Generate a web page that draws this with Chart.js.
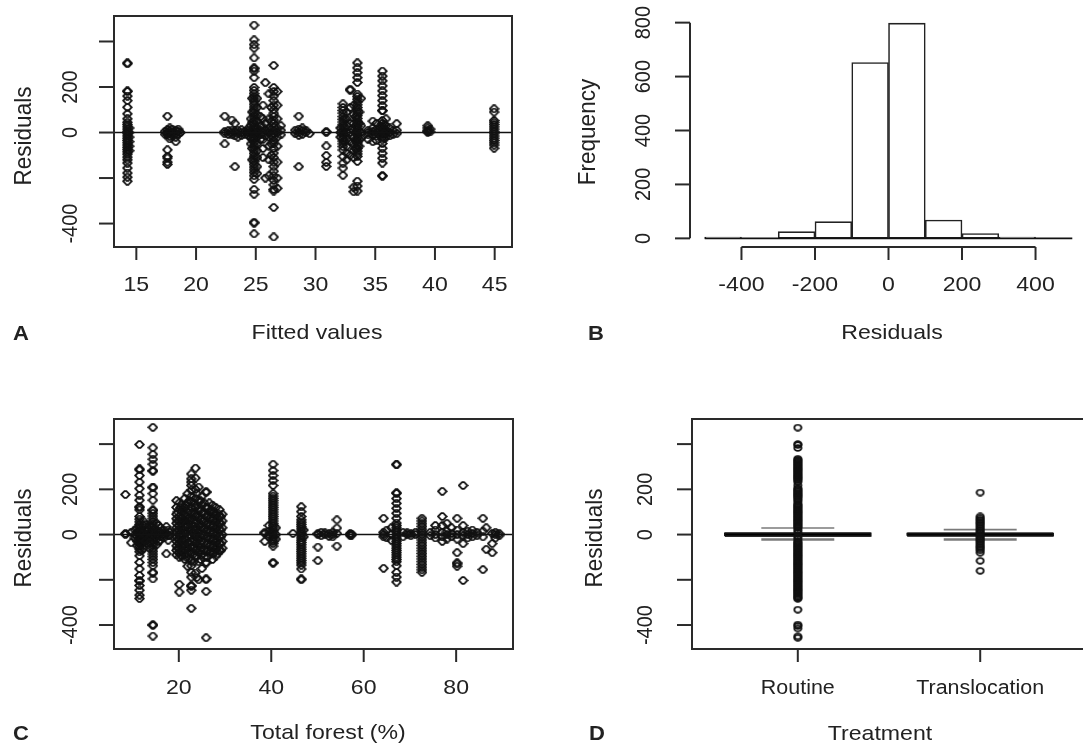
<!DOCTYPE html>
<html>
<head>
<meta charset="utf-8">
<title>Residual diagnostics</title>
<script src="https://cdn.jsdelivr.net/npm/chart.js@4.4.1/dist/chart.umd.min.js"></script>
<style>
  html, body { margin: 0; padding: 0; background: #fff; overflow: hidden; }
  #wrap { position: relative; width: 1083px; height: 746px; overflow: hidden; }
  canvas { position: absolute; }
</style>
</head>
<body>
<div id="wrap">
  <canvas id="panelA" width="541" height="373" style="left:0;top:0"></canvas>
  <canvas id="panelB" width="560" height="373" style="left:541px;top:0"></canvas>
  <canvas id="panelC" width="541" height="373" style="left:0;top:373px"></canvas>
  <canvas id="panelD" width="560" height="373" style="left:541px;top:373px"></canvas>
</div>
<script>
// --- A: residuals against fitted values (one list of residuals per fitted value)
const fittedA = [14.25, 14.4, 17.4, 17.6, 17.8, 18.0, 18.3, 18.5, 18.7, 22.4, 22.7, 23.0, 23.25, 23.5, 23.8, 24.1, 24.4, 24.6,
  24.86, 25.1, 25.4, 25.8, 26.1, 26.5, 26.8, 27.1, 28.3, 28.6, 28.9, 29.2, 29.5, 30.9, 32.1, 32.3, 32.6, 32.9, 33.2, 33.5,
  33.8, 34.4, 34.8, 35.1, 35.6, 35.9, 36.2, 36.5, 36.8, 39.4, 39.6, 44.95,
  24.7, 25.6, 26.3, 32.45, 33.35, 33.65, 35.35, 35.75];
const residA = [
  [306, 302, 183, 180, 160, 140, 111, 82, 60, 45, 35, 25, 15, 5, -5, -15, -25, -35, -45, -55, -65, -75, -85, -95, -108, -120, -134, -156, -178, -196, -214],
  [20, 0, -20, -40, -60, -80],
  [5, -8],
  [72, 12, 0, -10, -76, -105, -112, -130, -140],
  [20, 8, -5, -18, -28],
  [15, 0, -12],
  [10, -5, -20, -40],
  [15, 5, -8],
  [0],
  [72, 5, -5, -50],
  [8, -8],
  [55, 10, 0, -10],
  [40, 5, -15, -150],
  [10, -5, -20],
  [12, 0, -12],
  [5, -8],
  [20, 10, 0, -12],
  [60, 30, 0, -25, -50],
  [472, 407, 386, 371, 328, 284, 280, 270, 241, 198, 185, 172, 160, 148, 136, 124, 112, 100, 88, 76, 64, 52, 40, 28, 16, 4, -8, -20, -32, -44, -56, -68, -80, -92, -104, -116, -128, -140, -152, -164, -176, -190, -206, -250, -271, -394, -398, -445],
  [150, 110, 80, 50, 20, 0, -20, -50, -80, -110, -150, -180],
  [70, 30, 10, -10, -30],
  [219, 40, 10, -15, -200],
  [170, 60, 20, 0, -20, -60, -120, -190],
  [295, 198, 180, 160, 140, 120, 100, 85, 70, 55, 40, 25, 10, -5, -20, -35, -50, -70, -90, -110, -130, -150, -170, -190, -210, -230, -250, -257, -329, -459],
  [180, 120, 60, 20, 0, -20, -60, -130, -200, -245],
  [30, 10, -10],
  [10, -5],
  [72, 15, 0, -12, -150],
  [20, 8, -8],
  [10, 0],
  [-5],
  [5, 0, -59, -101, -131, -149],
  [20, 0, -20],
  [126, 110, 97, 85, 70, 58, 46, 34, 22, 10, -2, -14, -26, -38, -50, -62, -77, -105, -134, -156, -188],
  [90, 60, 30, 0, -30, -60, -90, -120],
  [190, 186, 110, 40, 0, -40, -100],
  [120, 80, 40, 10, -20, -50, -80, -110, -240, -260],
  [306, 284, 263, 241, 220, 169, 158, 146, 134, 122, 110, 98, 86, 74, 62, 50, 38, 26, 14, 2, -10, -22, -34, -46, -58, -70, -82, -94, -105, -127, -214, -235, -257],
  [150, 30, 0, -25],
  [10, 0, -10, -30],
  [50, 20, 5, -8, -40],
  [40, 15, 0, -15, -35],
  [270, 248, 227, 205, 183, 162, 140, 118, 97, 95, 53, 40, 28, 16, 4, -8, -20, -32, -48, -69, -91, -113, -134, -189, -192],
  [60, 30, 10, -5, -20],
  [20, 0, -15],
  [10, -8],
  [39, 10, -5],
  [30, 20, 10, 5, 0],
  [15, 3],
  [104, 90, 53, 45, 35, 25, 15, 5, -5, -15, -25, -35, -45, -55, -69],
  [150, 90, 45, 10, -30, -70, -120],
  [120, 60, 25, 0, -30, -70, -110],
  [110, 50, 15, -15, -50, -100],
  [60, 20, -10, -40],
  [70, 30, 0, -35, -70],
  [90, 40, 5, -30, -60],
  [25, 5, -10],
  [35, 15, -5, -25]
];

// --- B: histogram of residuals
const histBreaks = [-500, -400, -300, -200, -100, 0, 100, 200, 300, 400, 500];
const histCounts = [5, 0, 25, 62, 652, 798, 68, 18, 5, 0];

// --- C: residuals against total forest (%)
const forestC = [8.45, 9.7, 10.5, 11.5, 12.3, 13.2, 14.4, 15.2, 16.0, 16.8, 17.3, 18.0, 19.5, 20.1, 20.7, 21.3, 21.9, 22.7,
  23.6, 24.3, 25.0, 25.9, 26.6, 27.3, 28.0, 28.8, 29.4, 38.6, 39.5, 40.4, 41.0, 44.7, 46.5, 47.0, 50.1, 50.8, 51.6, 52.5,
  53.3, 54.2, 57.1, 57.4, 64.3, 65.0, 66.0, 67.1, 68.5, 69.4, 70.2, 71.2, 72.6, 74.4, 75.5, 77.0, 78.0, 79.0, 80.2, 81.5,
  82.5, 83.5, 84.5, 85.8, 86.5, 87.8, 88.5, 89.3,
  19.8, 20.4, 21.0, 21.6, 22.3, 23.2, 23.9, 24.7, 25.5, 26.2, 27.0, 27.7, 28.4, 29.1,
  11.0, 12.0, 12.8, 13.7, 15.6, 17.7];
const residC = [
  [177, 5, 0],
  [10, -36],
  [20, 0, -15],
  [398, 290, 286, 261, 232, 203, 174, 152, 123, 119, 109, 80, 68, 56, 44, 32, 20, 8, -4, -16, -28, -40, -52, -64, -76, -94, -123, -152, -181, -203, -206, -225, -246, -268, -283],
  [60, 40, 10, -10, -30, -60],
  [30, 15, 0, -20, -40],
  [474, 384, 355, 333, 311, 283, 280, 210, 207, 181, 152, 109, 106, 94, 82, 70, 58, 46, 34, 22, 10, -2, -14, -26, -38, -50, -62, -74, -86, -98, -110, -124, -138, -167, -170, -196, -398, -402, -449],
  [50, 20, 0, -20, -45],
  [30, 10, -10, -25],
  [20, 0, -15],
  [35, 5, -85],
  [10, -5],
  [150, 120, 90, 70, 50, 30, 10, -10, -30, -50, -70, -90],
  [140, 110, 80, 60, 40, 20, 0, -20, -40, -60, -80, -100, -220, -254],
  [130, 100, 75, 50, 25, 0, -25, -50, -75, -95],
  [160, 120, 90, 60, 30, 5, -20, -45, -70, -90, -110],
  [180, 140, 100, 70, 40, 15, -10, -35, -60, -85, -140],
  [268, 246, 232, 217, 196, 170, 145, 120, 95, 70, 45, 20, -5, -30, -55, -80, -116, -138, -167, -188, -225, -229, -246, -326],
  [294, 250, 200, 160, 120, 80, 50, 20, -10, -40, -70, -100, -170],
  [210, 150, 110, 75, 40, 10, -20, -50, -80, -120, -200],
  [170, 130, 95, 60, 30, 0, -30, -60, -90, -150],
  [190, 186, 120, 80, 45, 15, -15, -45, -75, -123, -126, -196, -199, -251, -456],
  [140, 100, 70, 40, 10, -20, -50, -80],
  [130, 95, 65, 35, 5, -25, -55, -85, -110],
  [120, 85, 55, 25, -5, -35, -65, -95],
  [110, 80, 50, 20, -10, -40, -70],
  [90, 60, 30, 0, -30, -60],
  [10, 5, -30],
  [40, 15, 0, -10],
  [311, 283, 261, 239, 217, 181, 170, 160, 150, 140, 130, 120, 110, 100, 90, 80, 70, 60, 50, 40, 30, 20, 10, 0, -10, -20, -30, -40, -51, -123, -127],
  [30, 0, -20],
  [5],
  [123, 101, 80, 65, 55, 45, 35, 25, 15, 5, -5, -15, -25, -35, -45, -55, -65, -75, -85, -95, -105, -115, -125, -135, -152, -196, -200],
  [20, -10],
  [5, 0, -55, -115],
  [10, -5],
  [8, 0],
  [5, -8],
  [10, 0, -10],
  [65, 29, 5, -51],
  [5, 0, -5],
  [2, -2],
  [72, 10, 0, -10, -149],
  [20, -15],
  [30, 0, -25],
  [311, 308, 185, 182, 159, 138, 116, 94, 72, 51, 40, 30, 20, 10, 0, -10, -20, -30, -40, -50, -60, -70, -80, -90, -100, -110, -120, -138, -167, -188, -210],
  [10, -10],
  [8, 0],
  [5, -5],
  [10, 0],
  [72, 60, 48, 36, 24, 12, 0, -12, -24, -36, -48, -60, -72, -84, -96, -108, -120, -132, -144, -156, -167],
  [10, -5],
  [40, 20, 0, -15],
  [191, 80, 40, 10, -10, -30],
  [50, 15, 0, -20],
  [30, 5, -10],
  [72, 20, 0, -20, -80, -125, -130, -140],
  [217, 40, 10, -5, -40, -203],
  [15, 0, -15],
  [20, 5, -10],
  [10, -5],
  [72, 15, -10, -155],
  [30, -65],
  [5, -40, -80],
  [10, 0, -15],
  [5, -5],
  [100, 60, 20, -20, -60],
  [120, 70, 30, -10, -50, -90],
  [110, 65, 15, -30, -75],
  [130, 80, 45, 10, -25, -65, -100],
  [150, 105, 60, 30, 0, -40, -75, -105],
  [140, 100, 65, 35, 5, -25, -55, -85, -120],
  [180, 130, 90, 60, 30, 0, -30, -60, -95, -190],
  [150, 110, 70, 45, 20, -10, -40, -70, -110],
  [140, 100, 65, 30, 0, -35, -70, -100],
  [120, 85, 50, 20, -10, -40, -70, -100],
  [110, 75, 45, 15, -15, -45, -75],
  [100, 70, 40, 10, -20, -50, -80],
  [95, 65, 35, 5, -25, -55, -85],
  [80, 50, 20, -10, -40, -70],
  [30, 10, -10, -30, -50],
  [20, 0, -20, -40, -70],
  [45, 20, -5, -30],
  [40, 10, -15, -35, -60],
  [40, 15, -5, -30],
  [20, -5, -25]
];

// --- D: boxplot of residuals by treatment
const treatments = ['Routine', 'Translocation'];
const boxLo = [-22, -22];
const boxQ1 = [-6, -5];
const boxMed = [0, 0];
const boxQ3 = [6, 5];
const boxHi = [29, 22];
const outliersD = [
  [473, 400, 396, 383, 335, 330, 325, 320, 315, 310, 305, 300, 295, 290, 285, 280, 275, 270, 265, 260, 255, 250, 245, 240,
   233, 218, 205, 200, 195, 190, 185, 180, 175, 170, 165, 160, 153, 145, 135, 130, 125, 120, 115, 110, 105, 100, 95, 90, 85,
   80, 75, 70, 65, 60, 55, 50, 45, 40, 35, 30, 20, 10, -10, -20, -30, -35, -40, -45, -50, -55, -60, -65, -70, -75, -80, -85,
   -90, -95, -100, -105, -110, -115, -120, -125, -130, -135, -140, -145, -150, -155, -160, -165, -170, -175, -180, -185,
   -190, -195, -200, -205, -210, -215, -220, -225, -230, -235, -240, -245, -250, -255, -260, -265, -270, -275, -280, -284,
   -332, -398, -404, -415, -450, -456],
  [186, 80, 72, 65, 58, 51, 44, 36, 28, 20, 12, 5, -3, -10, -18, -25, -32, -40, -48, -55, -62, -70, -80, -116, -160]
];

// --- ticks
const fittedTicks = [15, 20, 25, 30, 35, 40, 45];
const residTicks = [-400, -200, 0, 200, 400];
const residTickLabels = ['-400', '', '0', '200', ''];
const histTicks = [-400, -200, 0, 200, 400];
const freqTicks = [0, 200, 400, 600, 800];
const forestTicks = [20, 40, 60, 80];
const treatmentTicks = [1, 2];

const FONT = '"Liberation Sans", Arial, Helvetica, sans-serif';
const INK = '#222';
const STRETCH = 1.1; // the figure was scaled a little wider than tall

function columnsToPoints(xs, ys) {
  const pts = [];
  xs.forEach((x, i) => (ys[i] || []).forEach(y => pts.push({ x: x, y: y })));
  return pts;
}

// small hollow markers like the resampled R circles
function makeMarker(kind) {
  const c = document.createElement('canvas');
  const g = c.getContext('2d');
  if (kind === 'diamond') {
    c.width = 11; c.height = 9;
    g.strokeStyle = '#111'; g.lineWidth = 1.8;
    g.beginPath();
    g.moveTo(1.2, 4.5); g.lineTo(4.5, 1.2); g.lineTo(6.5, 1.2); g.lineTo(9.8, 4.5);
    g.lineTo(6.5, 7.8); g.lineTo(4.5, 7.8); g.closePath();
  } else {
    c.width = 10; c.height = 8;
    g.strokeStyle = '#111'; g.lineWidth = 1.8;
    g.beginPath();
    g.ellipse(5, 4, 3.6, 2.8, 0, 0, Math.PI * 2);
  }
  g.stroke();
  return c;
}
const diamond = makeMarker('diamond');
const ring = makeMarker('ring');

function drawText(ctx, str, x, y, size, rotate, bold) {
  ctx.save();
  ctx.translate(x, y);
  ctx.scale(STRETCH, 1);
  if (rotate) ctx.rotate(-Math.PI / 2);
  ctx.font = (bold ? 'bold ' : '') + size + 'px ' + FONT;
  ctx.fillStyle = INK;
  ctx.textAlign = 'center';
  ctx.textBaseline = 'middle';
  ctx.fillText(str, 0, 0);
  ctx.restore();
}

function seg(ctx, x0, y0, x1, y1) {
  ctx.beginPath(); ctx.moveTo(x0, y0); ctx.lineTo(x1, y1); ctx.stroke();
}

// R style frame, axes, tick labels and titles
const rFrame = {
  id: 'rFrame',
  afterDatasetsDraw(chart, args, o) {
    const ctx = chart.ctx, a = chart.chartArea;
    const sx = chart.scales.x, sy = chart.scales.y;
    ctx.save();
    if (o.hline) {
      const y = sy.getPixelForValue(o.hline.value);
      const x0 = o.hline.from !== undefined ? sx.getPixelForValue(o.hline.from) : a.left;
      const x1 = o.hline.to !== undefined ? sx.getPixelForValue(o.hline.to) : a.right;
      ctx.strokeStyle = '#111'; ctx.lineWidth = 1.6;
      seg(ctx, x0, y, x1, y);
    }
    ctx.strokeStyle = '#2a2a2a'; ctx.lineWidth = 2;
    if (o.box) {
      ctx.strokeRect(a.left, a.top, a.right - a.left, a.bottom - a.top);
    } else {
      const xFirst = sx.getPixelForValue(o.xTicks[0]), xLast = sx.getPixelForValue(o.xTicks[o.xTicks.length - 1]);
      const yFirst = sy.getPixelForValue(o.yTicks[0]), yLast = sy.getPixelForValue(o.yTicks[o.yTicks.length - 1]);
      seg(ctx, xFirst, a.bottom, xLast, a.bottom);
      seg(ctx, a.left, yFirst, a.left, yLast);
    }
    o.xTicks.forEach((v, i) => {
      const x = sx.getPixelForValue(v);
      seg(ctx, x, a.bottom, x, a.bottom + 13);
      drawText(ctx, o.xLabels[i], x, o.xTickY, o.xTickSize || 21, false);
    });
    o.yTicks.forEach((v, i) => {
      const y = sy.getPixelForValue(v);
      seg(ctx, a.left, y, a.left - 15, y);
      if (o.yLabels[i]) drawText(ctx, o.yLabels[i], o.yTickX, y, 20, true);
    });
    drawText(ctx, o.xTitle[0], o.xTitle[1], o.xTitle[2], 21, false);
    drawText(ctx, o.yTitle[0], o.yTitle[1], o.yTitle[2], 22.5, true);
    drawText(ctx, o.letter[0], o.letter[1], o.letter[2], 20, false, true);
    ctx.restore();
  }
};

function baseOptions(pad, xr, yr, frame) {
  return {
    responsive: false,
    animation: false,
    events: [],
    layout: { padding: pad },
    scales: {
      x: { type: 'linear', display: false, min: xr[0], max: xr[1], offset: false },
      y: { type: 'linear', display: false, min: yr[0], max: yr[1] }
    },
    plugins: { legend: { display: false }, tooltip: { enabled: false }, rFrame: frame }
  };
}

const scatterStyle = { pointRadius: 4, pointStyle: diamond, showLine: false };

// Panel A
new Chart(document.getElementById('panelA'), {
  type: 'scatter',
  data: { datasets: [Object.assign({ data: columnsToPoints(fittedA, residA) }, scatterStyle)] },
  options: baseOptions({ left: 114, right: 29, top: 16, bottom: 126 }, [13.13, 46.45], [-503, 512], {
    box: true, hline: { value: 0 },
    xTicks: fittedTicks, xLabels: fittedTicks.map(String), xTickY: 285,
    yTicks: residTicks, yLabels: residTickLabels, yTickX: 71,
    xTitle: ['Fitted values', 317, 333], yTitle: ['Residuals', 24, 136], letter: ['A', 21, 334]
  }),
  plugins: [rFrame]
});

// Panel B
const histMids = histCounts.map((c, i) => (histBreaks[i] + histBreaks[i + 1]) / 2);
new Chart(document.getElementById('panelB'), {
  type: 'bar',
  data: {
    datasets: [{
      data: histMids.map((m, i) => ({ x: m, y: histCounts[i] })),
      backgroundColor: '#ffffff', borderColor: '#222', borderWidth: 1.6, borderSkipped: false,
      barPercentage: 1, categoryPercentage: 1
    }]
  },
  options: baseOptions({ left: 149, right: 14, top: 14, bottom: 126 }, [-540, 540], [-32, 832], {
    box: false, hline: { value: 0, from: histBreaks[0], to: histBreaks[histBreaks.length - 1] },
    xTicks: histTicks, xLabels: histTicks.map(String), xTickY: 285,
    yTicks: freqTicks, yLabels: freqTicks.map(String), yTickX: 103,
    xTitle: ['Residuals', 351, 333], yTitle: ['Frequency', 47, 132], letter: ['B', 55, 334]
  }),
  plugins: [rFrame]
});

// Panel C
new Chart(document.getElementById('panelC'), {
  type: 'scatter',
  data: { datasets: [Object.assign({ data: columnsToPoints(forestC, residC) }, scatterStyle)] },
  options: baseOptions({ left: 114, right: 28, top: 46, bottom: 97 }, [5.98, 92.3], [-506, 511], {
    box: true, hline: { value: 0 },
    xTicks: forestTicks, xLabels: forestTicks.map(String), xTickY: 315,
    yTicks: residTicks, yLabels: residTickLabels, yTickX: 71,
    xTitle: ['Total forest (%)', 328, 360], yTitle: ['Residuals', 24, 165], letter: ['C', 21, 361]
  }),
  plugins: [rFrame]
});

// Panel D
const BOX_HALF = 0.4, STAPLE_HALF = 0.2;
function lineSet(points, color, width, dash) {
  return {
    data: points.map(p => ({ x: p[0], y: p[1] })), showLine: true, pointRadius: 0,
    borderColor: color, borderWidth: width, borderDash: dash || [], fill: false, tension: 0
  };
}
const boxSets = [];
treatments.forEach((t, i) => {
  const p = treatmentTicks[i];
  boxSets.push(lineSet([[p, boxQ3[i]], [p, boxHi[i]]], '#555', 1, [4, 3]));
  boxSets.push(lineSet([[p, boxQ1[i]], [p, boxLo[i]]], '#555', 1, [4, 3]));
  boxSets.push(lineSet([[p - STAPLE_HALF, boxHi[i]], [p + STAPLE_HALF, boxHi[i]]], '#7a7a7a', 1.6));
  boxSets.push(lineSet([[p - STAPLE_HALF, boxLo[i]], [p + STAPLE_HALF, boxLo[i]]], '#7a7a7a', 2.4));
  boxSets.push(lineSet([[p - BOX_HALF, boxQ1[i]], [p + BOX_HALF, boxQ1[i]], [p + BOX_HALF, boxQ3[i]],
    [p - BOX_HALF, boxQ3[i]], [p - BOX_HALF, boxQ1[i]]], '#111', 1.6));
  boxSets.push(lineSet([[p - BOX_HALF, boxMed[i]], [p + BOX_HALF, boxMed[i]]], '#000', 4));
});
new Chart(document.getElementById('panelD'), {
  type: 'scatter',
  data: {
    datasets: [{ data: columnsToPoints(treatmentTicks, outliersD), pointRadius: 4, pointStyle: ring, showLine: false }].concat(boxSets)
  },
  options: baseOptions({ left: 151, right: 15, top: 46, bottom: 97 }, [0.42, 2.58], [-506, 511], {
    box: true,
    xTicks: treatmentTicks, xLabels: treatments, xTickY: 316, xTickSize: 19.5,
    yTicks: residTicks, yLabels: residTickLabels, yTickX: 105,
    xTitle: ['Treatment', 339, 361], yTitle: ['Residuals', 54, 165], letter: ['D', 56, 361]
  }),
  plugins: [rFrame]
});
</script>
</body>
</html>
